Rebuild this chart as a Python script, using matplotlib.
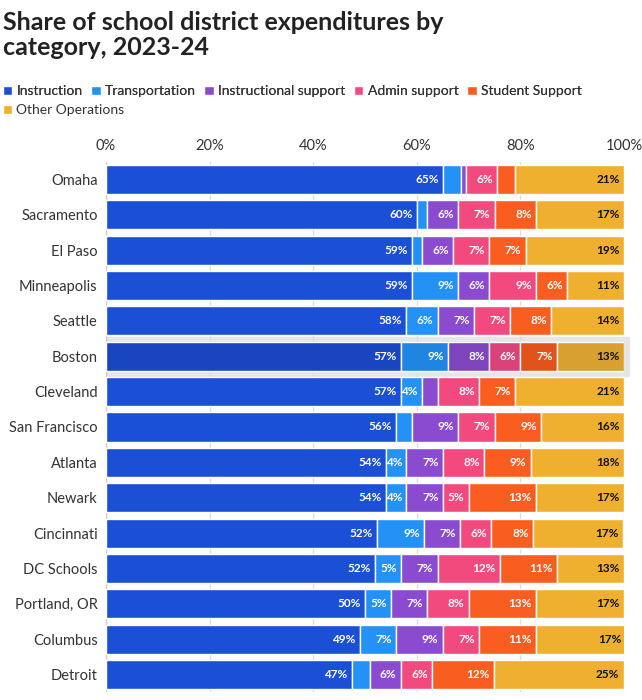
import matplotlib.pyplot as plt
import numpy as np

plt.rcParams['font.family'] = ['Lato', 'DejaVu Sans']

districts = ["Omaha", "Sacramento", "El Paso", "Minneapolis", "Seattle", "Boston",
             "Cleveland", "San Francisco", "Atlanta", "Newark", "Cincinnati",
             "DC Schools", "Portland, OR", "Columbus", "Detroit"]
categories = ["Instruction", "Transportation", "Instructional support",
              "Admin support", "Student Support", "Other Operations"]
instruction = [65, 60, 59, 59, 58, 57, 57, 56, 54, 54, 52.4, 52, 50, 49, 47.4]
transportation = [3.5, 2, 2, 9, 6, 9, 4, 3, 4, 4, 9, 5, 5, 7, 3.5]
instr_support = [1, 6, 6, 6, 7, 8, 3, 9, 7, 7, 7, 7, 7, 9, 6]
admin = [6, 7, 7, 9, 7, 6, 8, 7, 8, 5, 6, 12, 8, 7, 6]
student = [3.5, 8, 7, 6, 8, 7, 7, 9, 9, 13, 8, 11, 13, 11, 12]
other = [21, 17, 19, 11, 14, 13, 21, 16, 18, 17, 17.4, 13, 17, 17.4, 25]

colors = ["#1a4fd6", "#2391f5", "#8a4bd0", "#f2497f", "#f95d1f", "#efb030"]
dark = ["#1a45c0", "#2085e0", "#7e45bd", "#d9437a", "#e0541c", "#d8a030"]
highlight = "Boston"

series = [instruction, transportation, instr_support, admin, student, other]

fig = plt.figure(figsize=(6.42, 7), dpi=100)
ax = fig.add_axes([0.165, 0.011, 0.807, 0.758])
y = np.arange(len(districts))
hi = districts.index(highlight)
ax.axhspan(hi - 0.55, hi + 0.55, xmin=0, xmax=1.01, color="#e6e6e6", zorder=0, clip_on=False)

left = np.zeros(len(districts))
handles = []
for k, (name, vals) in enumerate(zip(categories, series)):
    vals = np.array(vals, dtype=float)
    cols = [dark[k] if d == highlight else colors[k] for d in districts]
    bars = ax.barh(y, vals, left=left, height=0.82, color=cols, edgecolor="white",
                   linewidth=1, label=name, zorder=2)
    handles.append(bars)
    for i, v in enumerate(vals):
        if v >= 4:
            ax.text(left[i] + v - 0.8, y[i], f"{round(v):.0f}%", ha="right", va="center",
                    fontsize=8.5, fontweight="bold",
                    color="#111111" if k == 5 else "white", zorder=3)
    left += vals

ax.set_xlim(0, 100)
ax.set_ylim(len(districts) - 0.5, -0.5)
ax.set_yticks(y)
ax.set_yticklabels(districts, fontsize=10.5, color="#333333")
ax.set_xticks([0, 20, 40, 60, 80, 100])
ax.set_xticklabels(["0%", "20%", "40%", "60%", "80%", "100%"], fontsize=10.5, color="#333333")
ax.xaxis.tick_top()
ax.tick_params(length=0, pad=6)
ax.grid(axis="x", color="#dddddd", linewidth=1, zorder=0)
ax.set_axisbelow(True)
for s in ax.spines.values():
    s.set_visible(False)
ax.axvline(0, color="#cccccc", linewidth=1, zorder=1)

fig.text(0.005, 0.985, "Share of school district expenditures by\ncategory, 2023-24",
         fontsize=18, fontweight="bold", color="#222222", va="top", linespacing=1.15)
leg_kw = dict(frameon=False, fontsize=10, handlelength=0.7, handleheight=0.7,
              handletextpad=0.3, columnspacing=0.6, labelcolor="#333333",
              borderaxespad=0, borderpad=0)
leg1 = fig.legend(handles[:5], categories[:5], loc="upper left",
                  bbox_to_anchor=(0.004, 0.878), ncol=5, **leg_kw)
fig.add_artist(leg1)
fig.legend(handles[5:], categories[5:], loc="upper left",
           bbox_to_anchor=(0.004, 0.851), ncol=1, **leg_kw)

fig.savefig("out.png", dpi=100)
